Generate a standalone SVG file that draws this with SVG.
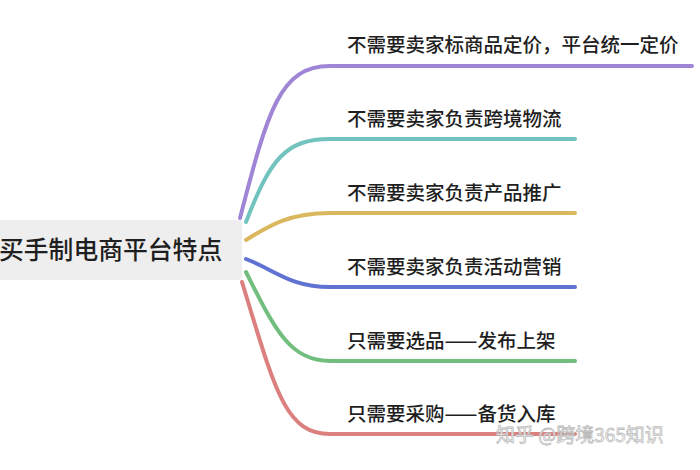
<svg xmlns="http://www.w3.org/2000/svg" width="700" height="470" viewBox="0 0 700 470">
<style>
.t{font-family:"Noto Sans CJK SC","Noto Sans",sans-serif;fill:#1f1f1f;font-size:19.5px;font-weight:500}
.root{font-family:"Noto Sans CJK SC","Noto Sans",sans-serif;fill:#1f1f1f;font-size:24.8px;font-weight:500}
.c{fill:none;stroke-width:4;stroke-linecap:round}
.wm{font-family:"Noto Sans CJK SC","Noto Sans",sans-serif;font-size:19px;fill:#fff;stroke:#bbb;stroke-width:0.8}
</style>
<rect width="700" height="470" fill="#fff"/>
<g id="connectors">
<path class="c" stroke="#a084d6" d="M240,218 C268,110 280,66 330,66 L692,66"/>
<path class="c" stroke="#72c3be" d="M246,222 C270,160 285,139 330,139 L575,139"/>
<path class="c" stroke="#dbb85d" d="M246,240 C270,225 290,213 330,213 L575,213"/>
<path class="c" stroke="#6072d2" d="M246,259 C275,270 290,287 330,287 L575,287"/>
<path class="c" stroke="#72be7f" d="M246,272 C275,330 290,361 330,361 L575,361"/>
<path class="c" stroke="#dc7f7f" d="M242,282 C275,390 285,434 330,434 L575,434"/>
</g>
<g id="root">
<rect x="-10" y="220" width="252" height="60" rx="4" fill="#eeeeee"/>
<text class="root" x="-1" y="259">买手制电商平台特点</text>
</g>
<g id="n1"><text class="t" x="347" y="52">不需要卖家标商品定价，平台统一定价</text></g>
<g id="n2"><text class="t" x="347" y="126">不需要卖家负责跨境物流</text></g>
<g id="n3"><text class="t" x="347" y="200">不需要卖家负责产品推广</text></g>
<g id="n4"><text class="t" x="347" y="274">不需要卖家负责活动营销</text></g>
<g id="n5"><text class="t" x="347" y="348">只需要选品——发布上架</text></g>
<g id="n6"><text class="t" x="347" y="421">只需要采购——备货入库</text></g>
<text class="wm" x="496" y="442">知乎 @跨境365知识</text>
</svg>
